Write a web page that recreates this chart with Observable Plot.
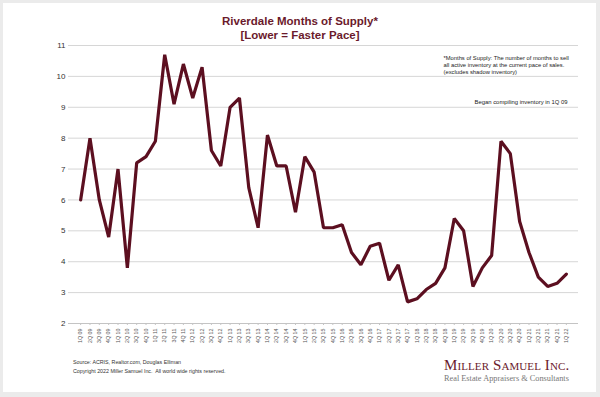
<!DOCTYPE html>
<html>
<head>
<meta charset="utf-8">
<script src="https://cdn.jsdelivr.net/npm/d3@7"></script>
<script src="https://cdn.jsdelivr.net/npm/@observablehq/plot@0.6"></script>
<style>
  html, body { margin: 0; padding: 0; }
  body { width: 600px; height: 397px; background: #ebebeb; position: relative; overflow: hidden; font-family: "Liberation Sans", Arial, sans-serif; }
  #card { position: absolute; left: 3px; top: 3px; width: 593px; height: 389px; background: #fff; }
  .abs { position: absolute; white-space: nowrap; }
  #title { left: 0; width: 600px; top: 14px; text-align: center; color: #6b1a2c; font-weight: bold; font-size: 11.5px; line-height: 14px; }
  #chart { position: absolute; left: 0; top: 40px; }
  #src { left: 73px; top: 358px; font-size: 5.3px; line-height: 9px; color: #333; }
  #logo1 { left: 444px; top: 357px; font-family: "Liberation Serif", "DejaVu Serif", serif; font-variant: small-caps; font-size: 15px; color: #6b1a2c; letter-spacing: 0.1px; }
  #logo2 { left: 444px; top: 374px; font-family: "Liberation Serif", "DejaVu Serif", serif; font-size: 8.3px; color: #777; }
</style>
</head>
<body>
<div id="card"></div>
<div id="title" class="abs">Riverdale Months of Supply*<br>[Lower = Faster Pace]</div>
<div id="chart"></div>
<div id="src" class="abs">Source: ACRIS, Realtor.com, Douglas Elliman<br>Copyright 2022 Miller Samuel Inc.&nbsp; All world wide rights reserved.</div>
<div id="logo1" class="abs">Miller Samuel Inc.</div>
<div id="logo2" class="abs">Real Estate Appraisers &amp; Consultants</div>
<script>
const quarters = [
  "1Q 09","2Q 09","3Q 09","4Q 09",
  "1Q 10","2Q 10","3Q 10","4Q 10",
  "1Q 11","2Q 11","3Q 11","4Q 11",
  "1Q 12","2Q 12","3Q 12","4Q 12",
  "1Q 13","2Q 13","3Q 13","4Q 13",
  "1Q 14","2Q 14","3Q 14","4Q 14",
  "1Q 15","2Q 15","3Q 15","4Q 15",
  "1Q 16","2Q 16","3Q 16","4Q 16",
  "1Q 17","2Q 17","3Q 17","4Q 17",
  "1Q 18","2Q 18","3Q 18","4Q 18",
  "1Q 19","2Q 19","3Q 19","4Q 19",
  "1Q 20","2Q 20","3Q 20","4Q 20",
  "1Q 21","2Q 21","3Q 21","4Q 21",
  "1Q 22"
];
const monthsOfSupply = [
  6.0, 8.0, 6.0, 4.8,
  7.0, 3.8, 7.2, 7.4,
  7.9, 10.7, 9.1, 10.4,
  9.3, 10.3, 7.6, 7.1,
  9.0, 9.3, 6.4, 5.1,
  8.1, 7.1, 7.1, 5.6,
  7.4, 6.9, 5.1, 5.1,
  5.2, 4.3, 3.9, 4.5,
  4.6, 3.4, 3.9, 2.7,
  2.8, 3.1, 3.3, 3.8,
  5.4, 5.0, 3.2, 3.8,
  4.2, 7.9, 7.5, 5.3,
  4.3, 3.5, 3.2, 3.3,
  3.6
];
const yTicks = [2,3,4,5,6,7,8,9,10,11];
const noteDefinition = "*Months of Supply: The number of months to sell\nall active inventory at the current pace of sales.\n(excludes shadow inventory)";
const noteStart = "Began compiling inventory in 1Q 09";

const data = quarters.map((q, i) => ({q, v: monthsOfSupply[i]}));

const chart = Plot.plot({
  width: 600,
  height: 305,
  marginLeft: 68,
  marginRight: 22,
  marginTop: 5,
  marginBottom: 22,
  style: {fontFamily: "'Liberation Sans', Arial, sans-serif", background: "transparent"},
  x: {type: "point", domain: quarters, padding: 1.3, round: false, label: null},
  y: {domain: [2, 11], ticks: yTicks, label: null},
  marks: [
    Plot.ruleY(yTicks.slice(1), {stroke: "#d6d6d6", strokeWidth: 1}),
    Plot.ruleY([2], {stroke: "#c4c4c4", strokeWidth: 1}),
    Plot.axisY({ticks: yTicks, tickSize: 0, tickPadding: 3, fontSize: 8, fill: "#333", label: null}),
    Plot.axisX({tickRotate: -90, tickSize: 2, tickPadding: 3, fontSize: 5.3, fill: "#555", stroke: "#c4c4c4", label: null}),
    Plot.lineY(data, {x: "q", y: "v", stroke: "#5c0f20", strokeWidth: 3.2, strokeLinejoin: "miter"}),
    Plot.text([noteDefinition], {frameAnchor: "top-right", textAnchor: "start", lineAnchor: "top", dx: -135, dy: 10, fontSize: 5.8, lineHeight: 1.15, fill: "#222"}),
    Plot.text([noteStart], {frameAnchor: "top-right", textAnchor: "end", lineAnchor: "middle", dx: -11, dy: 57, fontSize: 5.9, fill: "#222"})
  ]
});
document.getElementById("chart").appendChild(chart);
</script>
</body>
</html>
